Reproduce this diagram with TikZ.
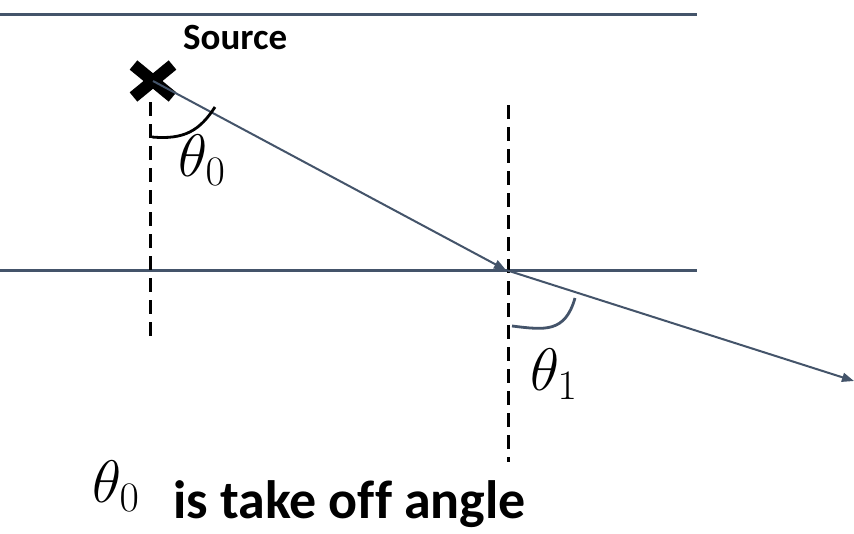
\RequirePackage{fix-cm}
\documentclass[tikz,border=0pt]{standalone}
\usepackage{fontspec}
\setsansfont{Carlito}[Ligatures=NoCommon]
\usetikzlibrary{arrows.meta,shapes.misc}
\definecolor{slate}{HTML}{44546A}
\begin{document}
\begin{tikzpicture}[x=1pt,y=-1pt,
  surface/.style={draw=slate,line width=3pt},
  ray/.style={draw=slate,line width=2pt,-{Triangle[length=12pt,width=9pt]}},
  normal/.style={draw=black,line width=3pt,dash pattern=on 14pt off 8pt},
  anglearc/.style={line width=2.8pt},
  thetalbl/.style={font=\fontsize{60}{60}\selectfont,inner sep=0pt,anchor=base west},
  lbl/.style={inner sep=0pt,anchor=base west}]
\useasboundingbox[fill=white] (0,0) rectangle (854,533);
% surfaces
\coordinate (t0) at (0,14);
\coordinate (t1) at (697,14);
\coordinate (m0) at (0,270);
\coordinate (m1) at (697,270);
\draw[surface] (t0) -- (t1);
\draw[surface] (m0) -- (m1);
% normals
\coordinate (n0a) at (150,102);
\coordinate (n0b) at (150,340);
\coordinate (n1a) at (508,105);
\coordinate (n1b) at (508,462);
\draw[normal] (n0a) -- (n0b);
\draw[normal] (n1a) -- (n1b);
% source
\node[cross out,draw=black,line width=12pt,minimum width=27pt,minimum height=20pt,inner sep=0pt] (src) at (153,81) {};
\node[lbl,font=\sffamily\bfseries\fontsize{37}{37}\selectfont] (srclbl) at (183,49) {Source};
% rays
\coordinate (hit) at (506,270);
\coordinate (out) at (854,381);
\draw[ray] (src.center) -- (hit);
\draw[ray] (hit) -- (out);
% angle arcs
\coordinate (a0s) at (152,137);
\coordinate (a0e) at (215,107);
\draw[anglearc,black] (a0s) .. controls (185,140) and (200,130) .. (a0e);
\coordinate (a1s) at (512,326);
\coordinate (a1e) at (575,298);
\draw[anglearc,slate] (a1s) .. controls (545,330) and (565,333) .. (a1e);
% labels
\node[thetalbl] (th0) at (178,176) {$\theta_0$};
\node[thetalbl] (th1) at (530,390) {$\theta_1$};
\node[thetalbl] (th0b) at (92,502) {$\theta_0$};
\node[lbl,font=\sffamily\bfseries\fontsize{54}{54}\selectfont] (cap) at (173,518) {is take off angle};
\end{tikzpicture}
\end{document}
